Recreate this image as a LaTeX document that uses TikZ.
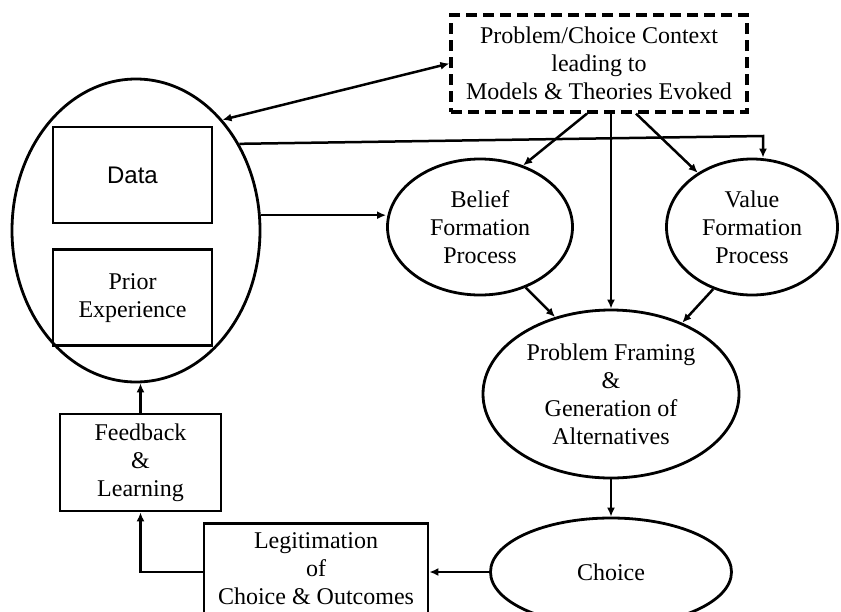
\documentclass[tikz,border=0pt]{standalone}
\usepackage{fontspec}
\setmainfont{Liberation Serif}
\newfontfamily\arialfont{Liberation Sans}
\usetikzlibrary{arrows.meta,positioning,shapes.geometric}

\begin{document}
\begin{tikzpicture}[
    x=1pt, y=-1pt,
    every node/.style={font=\fontsize{24}{28}\selectfont},
    box/.style={rectangle,draw,line width=2.8pt,align=center,inner sep=0pt},
    ctxbox/.style={rectangle,draw,line width=3.2pt,dash pattern=on 11pt off 6pt,
      minimum width=296pt,minimum height=97pt,align=center,inner sep=0pt},
    oval/.style={ellipse,draw,line width=2.8pt,align=center,inner sep=0pt},
    tip/.style={Latex[length=9pt,width=8pt]},
    arrow/.style={-{Latex[length=9pt,width=8pt]},line width=2.5pt}
  ]
    \useasboundingbox (0,0) rectangle (841,611);

    % knowledge store
    \node[oval,minimum width=248pt,minimum height=303pt] (store) at (136,230.5) {};
    \node[box,minimum width=159pt,minimum height=96pt] (data) at (132.5,175) {\arialfont Data};
    \node[box,minimum width=159pt,minimum height=96pt,below=24pt of data] (prior) {Prior\\Experience};

    % context and processes
    \node[ctxbox] (ctx) at (599,63.5) {Problem/Choice Context\\leading to\\Models \& Theories Evoked};
    \node[oval,minimum width=185pt,minimum height=136pt] (belief) at (480,227) {Belief\\Formation\\Process};
    \node[oval,minimum width=171pt,minimum height=136pt] (value) at (752,227) {Value\\Formation\\Process};
    \node[oval,minimum width=256pt,minimum height=168pt] (frame) at (611,394) {Problem Framing\\\&\\Generation of\\Alternatives};
    \node[oval,minimum width=241pt,minimum height=108pt] (choice) at (611,572) {Choice};

    % feedback loop
    \node[box,minimum width=224pt,minimum height=91pt] (legit) at (316,569) {Legitimation\\of\\Choice \& Outcomes};
    \node[box,minimum width=161pt,minimum height=97pt] (feedback) at (140.5,462.5) {Feedback\\\&\\Learning};

    \coordinate (turn) at (763,136);

    \draw[arrow,{Latex[length=9pt,width=8pt]}-{Latex[length=9pt,width=8pt]}] (store.52) -- (ctx.west);
    \draw[arrow] (store.40) -- (turn) -- (turn |- value.north);
    \draw[arrow] (store.7) -- (store.7 -| belief.west);
    \draw[arrow] ([xshift=-12pt]ctx.south) -- (belief.55);
    \draw[arrow] (ctx.south -| frame.north) -- (frame.north);
    \draw[arrow] ([xshift=37pt]ctx.south) -- (value.135);
    \draw[arrow] (belief.-53) -- (frame.126);
    \draw[arrow] (value.238) -- (frame.45);
    \draw[arrow] (frame.south) -- (choice.north);
    \draw[arrow] (choice.west) -- (choice.west -| legit.east);
    \draw[arrow] (legit.west |- choice.west) -| (feedback.south);
    \draw[arrow] (feedback.north) -- (feedback.north |- store.south);
  \end{tikzpicture}
\end{document}
